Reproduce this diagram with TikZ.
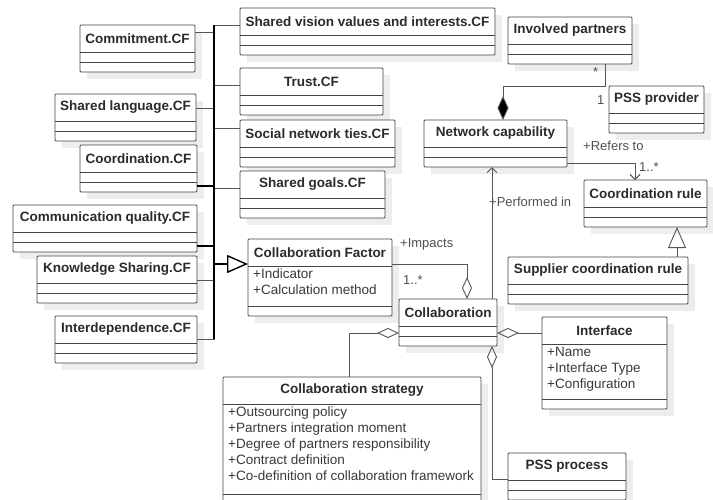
\documentclass[tikz,border=0pt]{standalone}
\usepackage{fontspec}
\setmainfont{Liberation Sans}
\usepackage{xcolor}
\usepackage{tikz}
\usetikzlibrary{arrows.meta}
\definecolor{boxline}{HTML}{444444}
\definecolor{linegray}{HTML}{555555}
\definecolor{shadowgray}{HTML}{EDEDED}
\definecolor{titlegray}{HTML}{2B2B2B}
\definecolor{textgray}{HTML}{3A3A3A}
\definecolor{labelgray}{HTML}{505050}
\def\umlclass#1#2#3#4#5#6#7{%
  \fill[shadowbox] (#2+7,#3+7) rectangle +(#4,37+#5);
  \node[box,minimum width=#4pt,minimum height={37pt+#5pt},anchor=north west] (#1) at (#2,#3) {};
  \node[title] at ([yshift=-13.5pt]#1.north) {#6};
  \draw[divider] ([yshift=-27pt]#1.north west) -- ([yshift=-27pt]#1.north east);
  \draw[divider] ([yshift=-27pt-#5pt]#1.north west) -- ([yshift=-27pt-#5pt]#1.north east);
  \node[attr] at ([yshift=-27pt]#1.north west) {#7};
}
\tikzstyle{box}=[draw=boxline,fill=white,line width=0.9pt,rounded corners=1pt,inner sep=0pt,outer sep=0pt]
\tikzstyle{divider}=[draw=boxline,line width=0.9pt]
\tikzstyle{shadowbox}=[fill=shadowgray]
\tikzstyle{title}=[font=\fontsize{13.5}{16}\selectfont\bfseries,text=titlegray,inner sep=0pt]
\tikzstyle{attr}=[anchor=north west,align=left,font=\fontsize{13.5}{16}\selectfont,text=textgray,inner xsep=5pt,inner ysep=3pt]
\tikzstyle{link}=[draw=linegray,line width=0.9pt]
\tikzstyle{trunk}=[draw=black,line width=1.4pt]
\tikzstyle{gen}=[arrows={Triangle[open,length=21pt,width=18pt]-}]
\tikzstyle{aggr}=[arrows={-Diamond[open,length=22pt,width=10pt]}]
\tikzstyle{comp}=[arrows={-Diamond[length=24pt,width=11pt,fill=black]}]
\tikzstyle{assoc}=[arrows={-Straight Barb[length=5pt,width=10pt]}]
\tikzstyle{lbl}=[anchor=west,inner sep=0pt,font=\fontsize{13}{15}\selectfont,text=labelgray]

\begin{document}
\begin{tikzpicture}[x=1pt,y=-1pt]
    \clip (0,0) rectangle (713,499);
    \umlclass{shvision}{240}{8}{255}{10}{Shared vision values and interests.CF}{}
    \umlclass{invpart}{508}{17}{124}{10}{Involved partners}{}
    \umlclass{commit}{80}{25}{115}{10}{Commitment.CF}{}
    \umlclass{trust}{240}{68}{143}{10}{Trust.CF}{}
    \umlclass{pssprov}{609}{86}{95}{10}{PSS provider}{}
    \umlclass{shlang}{55}{94}{141}{10}{Shared language.CF}{}
    \umlclass{socnet}{240}{120}{155}{10}{Social network ties.CF}{}
    \umlclass{netcap}{424}{120}{143}{10}{Network capability}{}
    \umlclass{coord}{80}{145}{117}{10}{Coordination.CF}{}
    \umlclass{shgoals}{240}{171}{145}{10}{Shared goals.CF}{}
    \umlclass{coordrule}{584}{180}{123}{10}{Coordination rule}{}
    \umlclass{commq}{13}{205}{184}{10}{Communication quality.CF}{}
    \umlclass{cf}{248}{239}{144}{40}{Collaboration Factor}{+Indicator\\+Calculation method}
    \umlclass{knowsh}{37}{256}{160}{10}{Knowledge Sharing.CF}{}
    \umlclass{supplier}{508}{257}{180}{10}{Supplier coordination rule}{}
    \umlclass{collab}{399}{299}{98}{10}{Collaboration}{}
    \umlclass{interdep}{55}{316}{142}{10}{Interdependence.CF}{}
    \umlclass{interface}{542}{317}{125}{55}{Interface}{+Name\\+Interface Type\\+Configuration}
    \umlclass{strategy}{223}{377}{258}{90}{Collaboration strategy}{+Outsourcing policy\\+Partners integration moment\\+Degree of partners responsibility\\+Contract definition\\+Co-definition of collaboration framework}
    \umlclass{pssproc}{508}{453}{118}{10}{PSS process}{}
    \coordinate (trunktop) at (214,25);
    \coordinate (trunkbot) at (214,339);
    \foreach \n/\dy in {commit/7,shlang/14,knowsh/24,interdep/23}
      \draw[link] ([yshift=-\dy pt]\n.north east) -| (trunktop);
    \foreach \n/\dy in {shvision/17,trust/17,socnet/8,shgoals/17}
      \draw[link] ([yshift=-\dy pt]\n.north west) -| (trunktop);
    \foreach \n in {coord,commq}
      \draw[trunk] ([yshift=-41pt]\n.north east) -| (trunktop);
    \draw[trunk] (trunktop) -- (trunkbot);
    \draw[trunk,gen] ([yshift=-25pt]cf.north west) -| (trunktop);
    \draw[link,aggr] ([yshift=-25pt]cf.north east) -| ([xshift=68pt]collab.north west);
    \node[lbl] at ([shift={(8pt,-5pt)}]cf.north east) {+Impacts};
    \node[lbl] at ([shift={(11pt,-41pt)}]cf.north east) {1..*};
    \coordinate (perf) at ([xshift=-5pt]collab.north east);
    \draw[link,assoc] (perf) -- (perf |- netcap.south);
    \node[lbl] at ([shift={(-3pt,-35pt)}]perf |- netcap.south) {+Performed in};
    \draw[link,comp] ([xshift=97pt]invpart.south west) -- ++(0,22) -| ([xshift=79pt]netcap.north west);
    \node[lbl] at ([shift={(85pt,-8pt)}]invpart.south west) {*};
    \node[lbl] at ([shift={(-12pt,-14pt)}]pssprov.north west) {1};
    \draw[link,assoc] ([yshift=-43pt]netcap.north east) -| ([xshift=51pt]coordrule.north west);
    \node[lbl] at ([shift={(16pt,-26pt)}]netcap.north east) {+Refers to};
    \node[lbl] at ([shift={(55pt,13pt)}]coordrule.north west) {1..*};
    \draw[link,gen] ([xshift=93pt]coordrule.south west) -- ([xshift=169pt]supplier.north west);
    \draw[link,aggr] ([yshift=-16pt]interface.north west) -- ([yshift=-34pt]collab.north east);
    \draw[link,aggr] ([xshift=126pt]strategy.north west) |- ([yshift=-34pt]collab.north west);
    \draw[link,aggr] ([yshift=-26pt]pssproc.north west) -| ([xshift=-5pt]collab.south east);
\end{tikzpicture}
\end{document}
